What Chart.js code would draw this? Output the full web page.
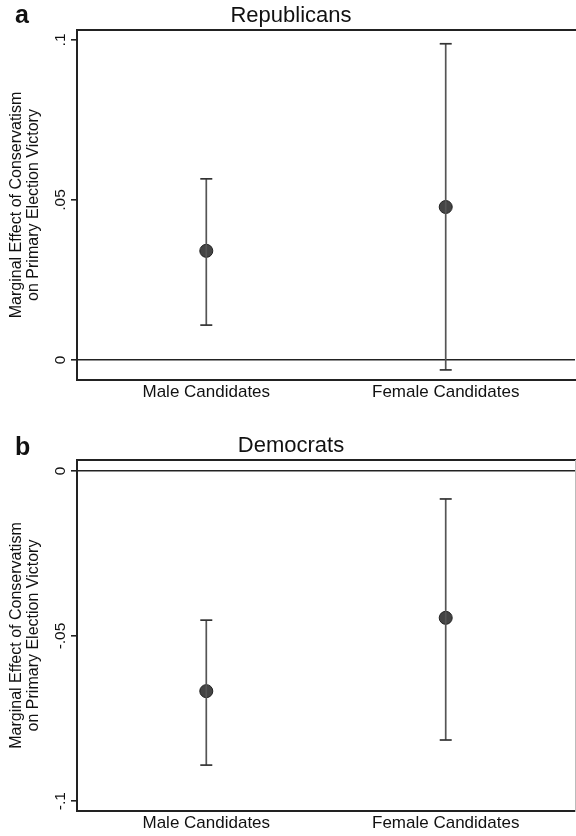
<!DOCTYPE html>
<html>
<head>
<meta charset="utf-8">
<script src="https://cdn.jsdelivr.net/npm/chart.js@4"></script>
<style>
  body { margin: 0; background: #fff; font-family: "Liberation Sans", Arial, sans-serif; }
  .panel { position: absolute; left: 0; width: 576px; height: 418px; }
  .tag { position: absolute; left: 15px; font-weight: bold; font-size: 25px; color: #111; }
</style>
</head>
<body>
<div class="panel" style="top:0">
  <canvas id="rep-chart" width="576" height="418"></canvas>
  <div class="tag" style="top:0px">a</div>
</div>
<div class="panel" style="top:418px">
  <canvas id="dem-chart" width="576" height="418"></canvas>
  <div class="tag" style="top:14px">b</div>
</div>
<script>
// --- Data ---
const categories = ["Male Candidates", "Female Candidates"];
const catPos = [1, 2];
const yAxisTitle = ["Marginal Effect of Conservatism", "on Primary Election Victory"];

// Panel a: Republicans
const repEst = [0.0341, 0.0478];
const repLo  = [0.0109, -0.0031];
const repHi  = [0.0566, 0.0988];
const repTicks = [0, 0.05, 0.1];
const repTickLabels = ["0", ".05", ".1"];

// Panel b: Democrats
const demEst = [-0.0667, -0.0445];
const demLo  = [-0.0891, -0.0815];
const demHi  = [-0.0452, -0.0085];
const demTicks = [-0.1, -0.05, 0];
const demTickLabels = ["-.1", "-.05", "0"];

const FONT = "'Liberation Sans', Arial, sans-serif";
const INK = "#222";

function buildChart(canvasId, opts) {
  const datasets = [];
  // confidence intervals, one line per category
  catPos.forEach((x, i) => {
    datasets.push({
      type: 'line',
      data: [{x: x, y: opts.lo[i]}, {x: x, y: opts.hi[i]}],
      borderColor: '#555',
      borderWidth: 1.7,
      pointStyle: 'line',
      pointRadius: 6,
      pointBorderColor: '#333',
      pointBorderWidth: 1.7,
      pointHoverRadius: 6
    });
  });
  // point estimates
  datasets.push({
    type: 'scatter',
    data: catPos.map((x, i) => ({x: x, y: opts.est[i]})),
    pointRadius: 6.5,
    pointBackgroundColor: '#444',
    pointBorderColor: '#222',
    pointBorderWidth: 1
  });

  const ctx = document.getElementById(canvasId).getContext('2d');
  return new Chart(ctx, {
    data: { datasets: datasets },
    options: {
      responsive: false,
      animation: false,
      layout: { autoPadding: false, padding: { left: 6, right: 0, top: 0, bottom: 0 } },
      plugins: {
        legend: { display: false },
        tooltip: { enabled: false },
        title: {
          display: true,
          text: opts.title,
          color: '#111',
          font: { family: FONT, size: 22, weight: 'normal', lineHeight: 1.2 },
          padding: opts.titlePad
        }
      },
      scales: {
        x: {
          type: 'linear',
          min: 0.46, max: 2.54,
          afterBuildTicks: s => { s.ticks = catPos.map(v => ({value: v})); },
          afterFit: s => { s.height = opts.xHeight; s.paddingLeft = 0; s.paddingRight = 0; },
          ticks: {
            callback: v => categories[catPos.indexOf(v)],
            color: '#111',
            font: { family: FONT, size: 17 },
            padding: 2,
            maxRotation: 0
          },
          grid: { display: false, drawTicks: false },
          border: { display: true, color: INK, width: 2 }
        },
        xTop: {
          type: 'linear', position: 'top',
          min: 0.46, max: 2.54,
          afterFit: s => { s.height = 0; s.paddingLeft = 0; s.paddingRight = 0; },
          ticks: { display: false },
          grid: { display: false, drawTicks: false },
          border: { display: true, color: INK, width: 2 }
        },
        y: {
          type: 'linear',
          min: opts.yMin, max: opts.yMax,
          afterBuildTicks: s => { s.ticks = opts.ticks.map(v => ({value: v})); },
          afterFit: s => { s.width = 71; },
          ticks: {
            callback: v => opts.tickLabels[opts.ticks.indexOf(v)],
            color: '#111',
            font: { family: FONT, size: 15.5 },
            minRotation: 90, maxRotation: 90,
            crossAlign: 'center',
            padding: opts.tickPad
          },
          grid: {
            color: c => (c.tick && c.tick.value === 0 ? INK : 'rgba(0,0,0,0)'),
            tickColor: INK,
            lineWidth: 1.6,
            tickLength: 6
          },
          border: { display: true, color: INK, width: 2 },
          title: {
            display: true,
            text: yAxisTitle,
            color: '#111',
            font: { family: FONT, size: 16, lineHeight: 1.05 },
            padding: { top: 2.6, bottom: 0 }
          }
        },
        yRight: {
          type: 'linear', position: 'right',
          display: opts.rightBorder,
          min: opts.yMin, max: opts.yMax,
          afterFit: s => { s.width = 1; },
          ticks: { display: false },
          grid: { display: false, drawTicks: false },
          border: { display: true, color: '#bbb', width: 1 }
        }
      }
    }
  });
}

buildChart('rep-chart', {
  title: 'Republicans',
  titlePad: { top: 2.3, bottom: 1.3 },
  est: repEst, lo: repLo, hi: repHi,
  ticks: repTicks, tickLabels: repTickLabels, tickPad: 0,
  yMin: -0.00625, yMax: 0.1031,
  xHeight: 38,
  rightBorder: false
});

buildChart('dem-chart', {
  title: 'Democrats',
  titlePad: { top: 14.8, bottom: 0.8 },
  est: demEst, lo: demLo, hi: demHi,
  ticks: demTicks, tickLabels: demTickLabels, tickPad: -3,
  yMin: -0.1030, yMax: 0.0033,
  xHeight: 25,
  rightBorder: true
});
</script>
</body>
</html>
